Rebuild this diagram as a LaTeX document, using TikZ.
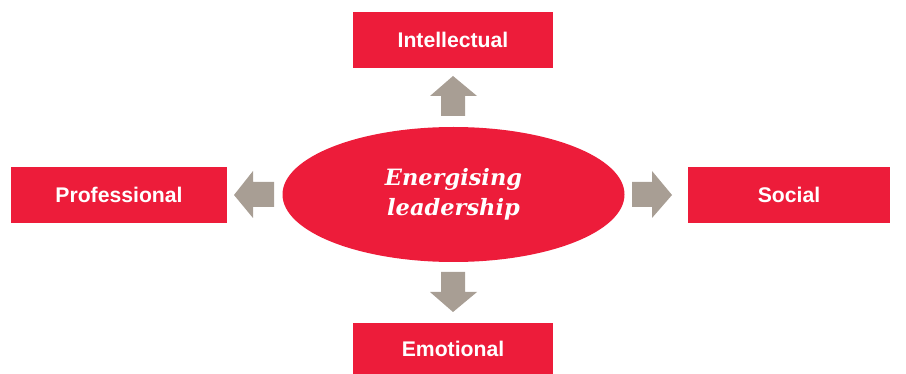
\documentclass[tikz,border=0pt]{standalone}
\usepackage{fontspec}
\setmainfont{Liberation Sans}
\newfontfamily\serifit{DejaVu Serif}
\usetikzlibrary{shapes.geometric}
\definecolor{pwcred}{HTML}{ED1C3A}
\definecolor{arrgrey}{HTML}{A89E94}
\begin{document}
\begin{tikzpicture}[x=1pt,y=-1pt,
  box/.style={fill=pwcred,draw=none,text=white,font=\fontsize{21.2}{25}\selectfont\bfseries,inner sep=0pt},
  blockarr/.style={fill=arrgrey,draw=none}]
\useasboundingbox (0,0) rectangle (906,374);
\node[box,minimum width=200pt,minimum height=56pt] (intel) at (453,40) {Intellectual};
\node[box,minimum width=216pt,minimum height=56pt] (prof) at (119,195) {Professional};
\node[box,minimum width=202pt,minimum height=56pt] (soc) at (789,195) {Social};
\node[box,minimum width=200pt,minimum height=51pt] (emo) at (453,348.5) {Emotional};
\node[ellipse,fill=pwcred,draw=none,minimum width=342pt,minimum height=135pt,inner sep=0pt,
  text=white,align=center,font=\serifit\fontsize{22.5}{30}\selectfont\bfseries\itshape] (core) at (453.5,194.5) {Energising\\leadership};
% up arrow
\fill[blockarr] (441,116) -- (465,116) -- (465,96) -- (477,96) -- (453,76) -- (430,96) -- (441,96) -- cycle;
% down arrow
\fill[blockarr] (441,272) -- (465,272) -- (465,292) -- (477,292) -- (453,312) -- (430,292) -- (441,292) -- cycle;
% left arrow
\fill[blockarr] (274,182) -- (274,207) -- (253,207) -- (253,218) -- (234,195) -- (253,171) -- (253,182) -- cycle;
% right arrow
\fill[blockarr] (632,182) -- (632,207) -- (652,207) -- (652,218) -- (672,195) -- (652,171) -- (652,182) -- cycle;
\end{tikzpicture}
\end{document}
